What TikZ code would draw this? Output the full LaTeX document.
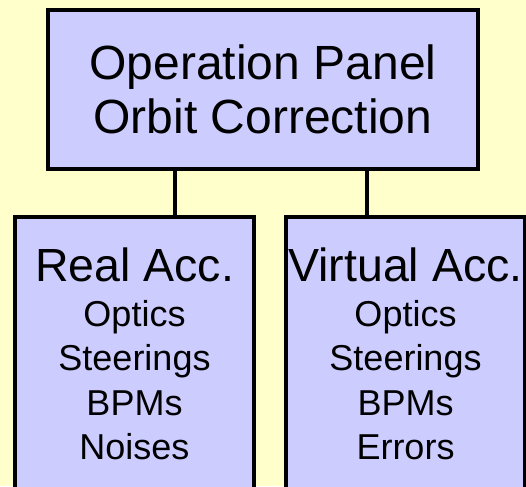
\documentclass[tikz,border=0pt]{standalone}
\usepackage{fontspec}
\setmainfont{Liberation Sans}
\definecolor{paper}{RGB}{255,255,204}
\definecolor{boxfill}{RGB}{204,204,255}
\begin{document}
\begin{tikzpicture}[x=1pt,y=-1pt,
  panel/.style={draw=black,fill=boxfill,line width=4pt,inner sep=0pt,outer sep=0pt},
  link/.style={draw=black,line width=3.6pt},
  caption/.style={inner sep=0pt,align=center,text=black}]
  \useasboundingbox (0,0) rectangle (526,486);
  \clip (0,0) rectangle (526,486);
  % striped paper background
  \fill[paper] (0,0) rectangle (526,486);

  % control box
  \node[panel,minimum width=430pt,minimum height=159pt] (top) at (263,89.5) {};
  \node[caption,font=\fontsize{48}{54}\selectfont] (toptext) at (top.center)
    {Operation Panel\\Orbit Correction};

  % accelerator boxes (they run past the lower edge)
  \node[panel,minimum width=239pt,minimum height=303pt] (real) at (134.5,368.5) {};
  \node[panel,minimum width=239pt,minimum height=303pt] (virt) at (405.5,368.5) {};

  % connectors
  \coordinate (c1) at (175,0);
  \coordinate (c2) at (367,0);
  \draw[link] (top.south -| c1) -- (real.north -| c1);
  \draw[link] (top.south -| c2) -- (virt.north -| c2);

  \node[caption,anchor=north,font=\fontsize{36}{44.5}\selectfont] (realtext) at ([yshift=-31pt]real.north)
    {{\fontsize{46.5}{46}\selectfont Real Acc.}\\Optics\\Steerings\\BPMs\\Noises};
  \node[caption,anchor=north,font=\fontsize{36}{44.5}\selectfont] (virttext) at ([yshift=-31pt]virt.north)
    {{\fontsize{46.5}{46}\selectfont Virtual Acc.}\\Optics\\Steerings\\BPMs\\Errors};
\end{tikzpicture}
\end{document}
